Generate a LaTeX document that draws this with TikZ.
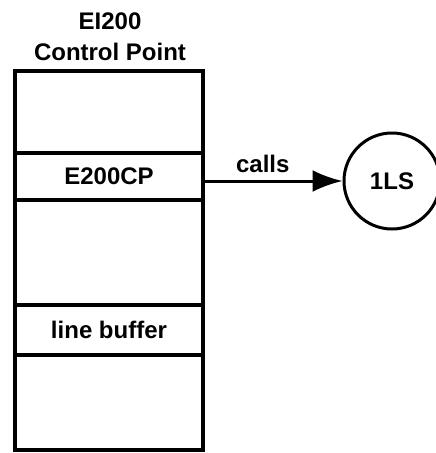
\documentclass[tikz,border=0pt]{standalone}
\usepackage{fontspec}
\setmainfont{Liberation Sans}
\usetikzlibrary{arrows.meta,positioning}

\tikzset{
  slot/.style={draw, line width=3.5pt, minimum width=188pt, inner sep=0pt, outer sep=0pt},
  lbl/.style={font=\fontsize{24}{31}\selectfont\bfseries},
  calls arrow/.style={line width=3pt, -{Latex[length=30pt,width=22pt]}}
}

\begin{document}
\begin{tikzpicture}[x=1pt,y=-1pt]
        \useasboundingbox (0,0) rectangle (436,453);

        % title over the stack
        \node[lbl, align=center] (title) at (110,37) {EI200\\Control Point};

        % control point stack
        \node[slot, minimum height=82pt] (top) at (109,112) {};
        \node[slot, minimum height=47pt, lbl] (cp) at (109,176.5) {E200CP};
        \node[slot, minimum height=105pt] (mid) at (109,252.5) {};
        \node[slot, minimum height=50pt, lbl] (buf) at (109,330) {line buffer};
        \node[slot, minimum height=95pt] (low) at (109,402.5) {};

        % called routine
        \node[draw, circle, line width=3pt, minimum size=96pt, inner sep=0pt, lbl] (ls) at (392,181) {1LS};

        % call
        \draw[calls arrow] (cp.east |- ls.west) -- node[lbl, above=3pt, xshift=-10pt] {calls} (ls.west);
    \end{tikzpicture}
\end{document}
